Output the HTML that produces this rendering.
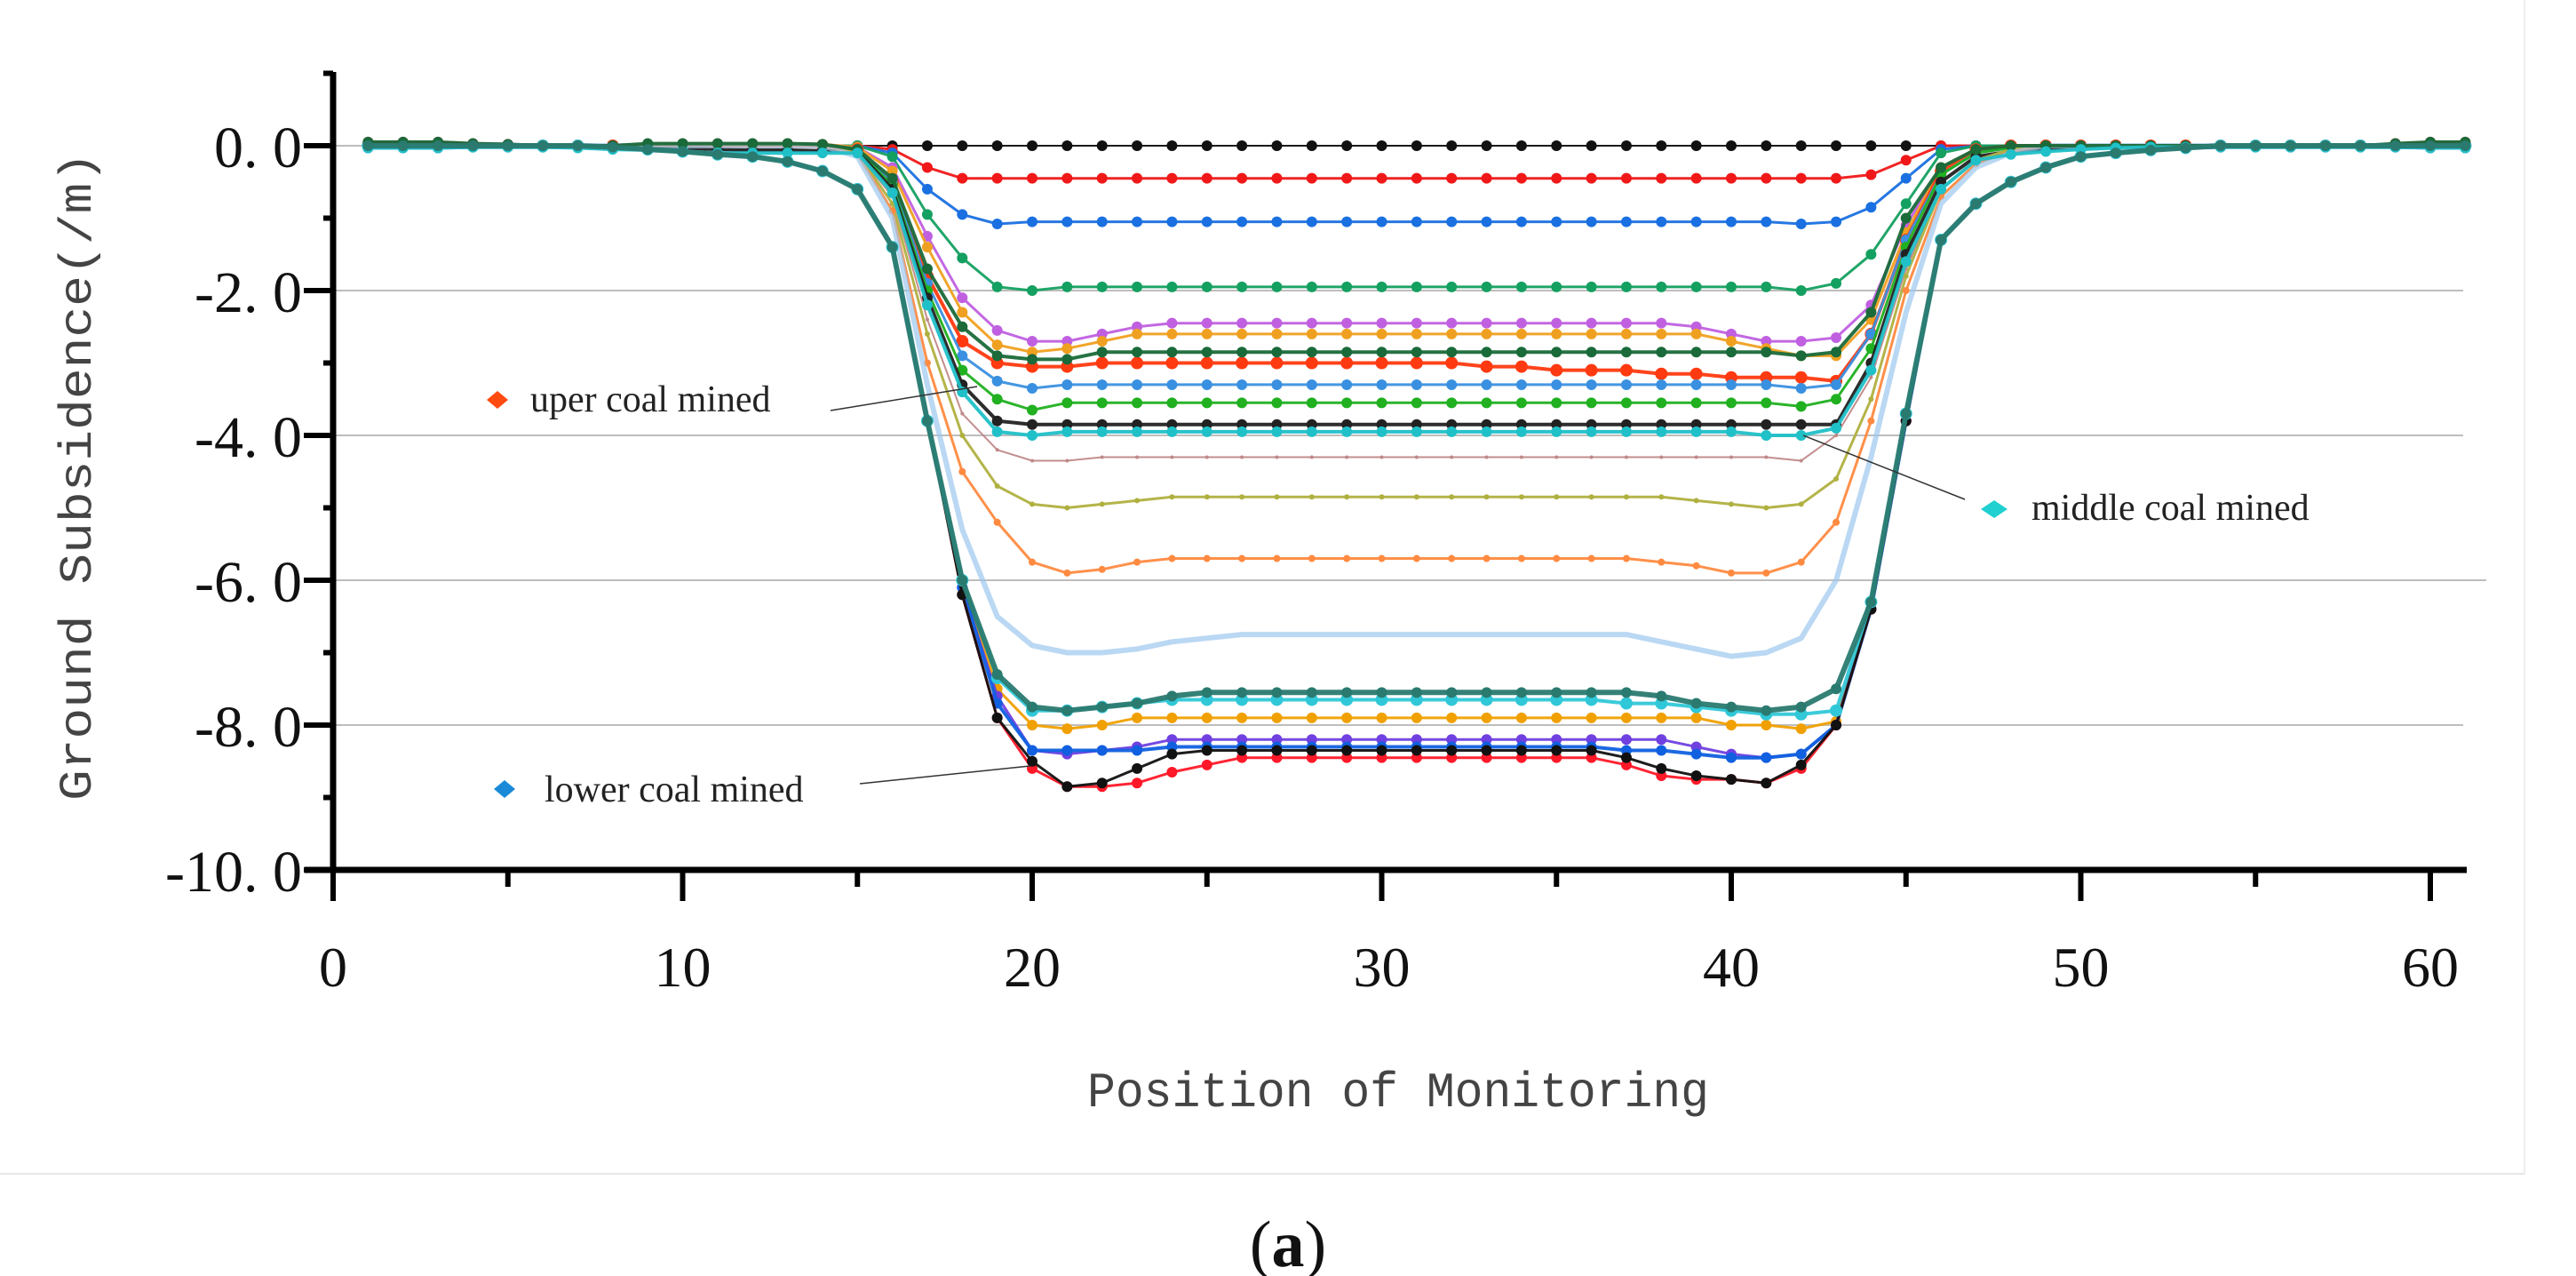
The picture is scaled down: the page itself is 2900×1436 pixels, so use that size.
<!DOCTYPE html>
<html><head><meta charset="utf-8">
<style>
html,body{margin:0;padding:0;background:#fff;}
svg{display:block;}
</style></head>
<body>
<svg id="chart" width="2900" height="1436" viewBox="0 0 2900 1436" xmlns="http://www.w3.org/2000/svg">
<rect width="2900" height="1436" fill="#fff"/>
<line x1="0" y1="1321" x2="2842" y2="1321" stroke="#e6e6e6" stroke-width="2"/>
<line x1="2842" y1="0" x2="2842" y2="1321" stroke="#eeeeee" stroke-width="2"/>
<g id="grid"></g>
<g id="series"></g>
<g id="axes"></g>
<text x="0" y="0" transform="translate(102,536) rotate(-90)" text-anchor="middle" font-family="Liberation Mono, monospace" font-size="52" fill="#444" textLength="730" lengthAdjust="spacingAndGlyphs">Ground Subsidence(/m)</text>
<text x="1574" y="1245" text-anchor="middle" font-family="Liberation Mono, monospace" font-size="56" fill="#444" textLength="700" lengthAdjust="spacingAndGlyphs">Position of Monitoring</text>
<g>
<path d="M548,450 L560,440 L572,450 L560,460 Z" fill="#ff4a10"/>
<text x="597" y="463" font-family="Liberation Serif, serif" font-size="42" fill="#222">uper coal mined</text>
<line x1="935" y1="462" x2="1100" y2="435" stroke="#333" stroke-width="1.5"/>
</g>
<g>
<path d="M556,888 L568,878 L580,888 L568,898 Z" fill="#1a8ad8"/>
<text x="613" y="902" font-family="Liberation Serif, serif" font-size="42" fill="#222">lower coal mined</text>
<line x1="968" y1="882" x2="1160" y2="862" stroke="#333" stroke-width="1.5"/>
</g>
<g>
<path d="M2230,573 L2245,563 L2260,573 L2245,583 Z" fill="#20d0d0"/>
<text x="2287" y="585" font-family="Liberation Serif, serif" font-size="42" fill="#222">middle coal mined</text>
<line x1="2212" y1="562" x2="2030" y2="490" stroke="#333" stroke-width="1.5"/>
</g>
<text x="1450" y="1425" text-anchor="middle" font-family="Liberation Serif, serif" font-size="74" fill="#111">(<tspan font-weight="bold">a</tspan>)</text>
</svg>
<script>
const positions = [1,2,3,4,5,6,7,8,9,10,11,12,13,14,15,16,17,18,19,20,21,22,23,24,25,26,27,28,29,30,31,32,33,34,35,36,37,38,39,40,41,42,43,44,45,46,47,48,49,50,51,52,53,54,55,56,57,58,59,60,61];
const yTicks = [0,-2,-4,-6,-8,-10];
const yTickLabels = ["0. 0","-2. 0","-4. 0","-6. 0","-8. 0","-10. 0"];
const xTicks = [0,10,20,30,40,50,60];
const xTickLabels = ["0","10","20","30","40","50","60"];
const seriesNames = ["s00","s01","s02","s03","s04","s05","s06","s07","s08","s09","s10","s11","s12","s13","s14","s15","s16","s17","s18","s19","s20","s21","s22"];

const s00 = [0,0,0,0,0,0,0,0,0,0,0,0,0,0, 0,0,0,0,0, 0,0,0, 0,0,0,0,0,0,0,0,0,0,0,0,0,0,0,0,0, 0,0,0, 0,0,0,0,0, 0,0,0,0,0,0,0,0,0,0,0,0,0,0];
const s01 = [0,0,0,0,0,0,0,0,0,0,0,0,0,0, 0,-0.05,-0.3,-0.45,-0.45, -0.45,-0.45,-0.45, -0.45,-0.45,-0.45,-0.45,-0.45,-0.45,-0.45,-0.45,-0.45,-0.45,-0.45,-0.45,-0.45,-0.45,-0.45,-0.45,-0.45, -0.45,-0.45,-0.45, -0.45,-0.4,-0.2,0,0, 0,0,0,0,0,0,0,0,0,0,0,0,0,0];
const s02 = [0,0,0,0,0,0,0,0,0,0,0,0,0,0, 0,-0.1,-0.6,-0.95,-1.08, -1.05,-1.05,-1.05, -1.05,-1.05,-1.05,-1.05,-1.05,-1.05,-1.05,-1.05,-1.05,-1.05,-1.05,-1.05,-1.05,-1.05,-1.05,-1.05,-1.05, -1.05,-1.05,-1.08, -1.05,-0.85,-0.45,-0.05,0, 0,0,0,0,0,0,0,0,0,0,0,0,0,0];
const s03 = [0,0,0,0,0,0,0,0,0,0,0,0,0,0, 0,-0.15,-0.95,-1.55,-1.95, -2.0,-1.95,-1.95, -1.95,-1.95,-1.95,-1.95,-1.95,-1.95,-1.95,-1.95,-1.95,-1.95,-1.95,-1.95,-1.95,-1.95,-1.95,-1.95,-1.95, -1.95,-1.95,-2.0, -1.9,-1.5,-0.8,-0.1,0, 0,0,0,0,0,0,0,0,0,0,0,0,0,0];
const s04 = [0,0,0,0,0,0,0,0,0.02,0.03,0.03,0.03,0.03,0.02, -0.02,-0.3,-1.25,-2.1,-2.55, -2.7,-2.7,-2.6, -2.5,-2.45,-2.45,-2.45,-2.45,-2.45,-2.45,-2.45,-2.45,-2.45,-2.45,-2.45,-2.45,-2.45,-2.45,-2.45,-2.5, -2.6,-2.7,-2.7, -2.65,-2.2,-1.1,-0.3,-0.05, 0,0,0,0,0,0,0,0,0,0,0,0,0,0];
const s05 = [0,0,0,0,0,0,0,0,0.02,0.03,0.03,0.03,0.03,0.02, -0.02,-0.35,-1.4,-2.3,-2.75, -2.85,-2.8,-2.7, -2.6,-2.6,-2.6,-2.6,-2.6,-2.6,-2.6,-2.6,-2.6,-2.6,-2.6,-2.6,-2.6,-2.6,-2.6,-2.6,-2.6, -2.7,-2.8,-2.9, -2.9,-2.4,-1.2,-0.3,-0.05, -0.02,0,0,0,0,0,0,0,0,0,0,0,0,0];
const s06 = [0.05,0.05,0.05,0.03,0.02,0,0,0,0.03,0.03,0.03,0.03,0.03,0.02, -0.05,-0.45,-1.7,-2.5,-2.9, -2.95,-2.95,-2.85, -2.85,-2.85,-2.85,-2.85,-2.85,-2.85,-2.85,-2.85,-2.85,-2.85,-2.85,-2.85,-2.85,-2.85,-2.85,-2.85,-2.85, -2.85,-2.85,-2.9, -2.85,-2.3,-1.0,-0.3,-0.05, 0,0,0,0,0,0,0,0,0,0,0,0.03,0.05,0.05];
const s07 = [0,0,0,0,0,0,0,0,0,0,0,0,0,0, -0.05,-0.5,-1.8,-2.7,-3.0, -3.05,-3.05,-3.0, -3.0,-3.0,-3.0,-3.0,-3.0,-3.0,-3.0,-3.0,-3.0,-3.0,-3.05,-3.05,-3.1,-3.1,-3.1,-3.15,-3.15, -3.2,-3.2,-3.2, -3.25,-2.6,-1.3,-0.35,-0.05, 0,0,0,0,0,0,0,0,0,0,0,0,0,0];
const s08 = [0,0,0,0,0,0,0,0,0,0,0,0,0,0, -0.05,-0.5,-1.9,-2.9,-3.25, -3.35,-3.3,-3.3, -3.3,-3.3,-3.3,-3.3,-3.3,-3.3,-3.3,-3.3,-3.3,-3.3,-3.3,-3.3,-3.3,-3.3,-3.3,-3.3,-3.3, -3.3,-3.3,-3.35, -3.3,-2.6,-1.3,-0.4,-0.1, -0.03,0,0,0,0,0,0,0,0,0,0,0,0,0];
const s09 = [0,0,0,0,0,0,0,0,0,0,0,0,0,0, -0.06,-0.55,-2.0,-3.1,-3.5, -3.65,-3.55,-3.55, -3.55,-3.55,-3.55,-3.55,-3.55,-3.55,-3.55,-3.55,-3.55,-3.55,-3.55,-3.55,-3.55,-3.55,-3.55,-3.55,-3.55, -3.55,-3.55,-3.6, -3.5,-2.8,-1.4,-0.4,-0.1, -0.03,0,0,0,0,0,0,0,0,0,0,0,0,0];
const s10 = [0,0,0,0,0,0,0,0,-0.02,-0.03,-0.05,-0.06,-0.06,-0.07, -0.08,-0.6,-2.1,-3.3,-3.8, -3.85,-3.85,-3.85, -3.85,-3.85,-3.85,-3.85,-3.85,-3.85,-3.85,-3.85,-3.85,-3.85,-3.85,-3.85,-3.85,-3.85,-3.85,-3.85,-3.85, -3.85,-3.85,-3.85, -3.85,-3.0,-1.5,-0.5,-0.15, -0.08,-0.05,-0.03,0,0,0,0,0,0,0,0,0,0,0];
const s11 = [-0.03,-0.03,-0.03,-0.02,-0.02,-0.02,-0.03,-0.05,-0.06,-0.08,-0.1,-0.1,-0.1,-0.1, -0.1,-0.65,-2.2,-3.4,-3.95, -4.0,-3.95,-3.95, -3.95,-3.95,-3.95,-3.95,-3.95,-3.95,-3.95,-3.95,-3.95,-3.95,-3.95,-3.95,-3.95,-3.95,-3.95,-3.95,-3.95, -3.95,-4.0,-4.0, -3.9,-3.1,-1.6,-0.6,-0.2, -0.12,-0.08,-0.05,-0.03,-0.02,-0.02,-0.02,-0.02,-0.02,-0.02,-0.02,-0.02,-0.03,-0.03];
const s12 = [0,0,0,0,0,0,0,0,0,0,0,0,0,0, -0.1,-0.7,-2.4,-3.7,-4.2, -4.35,-4.35,-4.3, -4.3,-4.3,-4.3,-4.3,-4.3,-4.3,-4.3,-4.3,-4.3,-4.3,-4.3,-4.3,-4.3,-4.3,-4.3,-4.3,-4.3, -4.3,-4.3,-4.35, -4.0,-3.2,-1.7,-0.6,-0.2, -0.05,0,0,0,0,0,0,0,0,0,0,0,0,0];
const s13 = [0,0,0,0,0,0,0,0,0,0,0,0,0,0, -0.1,-0.8,-2.6,-4.0,-4.7, -4.95,-5.0,-4.95, -4.9,-4.85,-4.85,-4.85,-4.85,-4.85,-4.85,-4.85,-4.85,-4.85,-4.85,-4.85,-4.85,-4.85,-4.85,-4.85,-4.9, -4.95,-5.0,-4.95, -4.6,-3.5,-1.8,-0.6,-0.2, -0.05,0,0,0,0,0,0,0,0,0,0,0,0,0];
const s14 = [0,0,0,0,0,0,0,0,0,0,0,0,0,0, -0.12,-0.9,-3.0,-4.5,-5.2, -5.75,-5.9,-5.85, -5.75,-5.7,-5.7,-5.7,-5.7,-5.7,-5.7,-5.7,-5.7,-5.7,-5.7,-5.7,-5.7,-5.7,-5.7,-5.75,-5.8, -5.9,-5.9,-5.75, -5.2,-3.8,-2.0,-0.7,-0.25, -0.08,0,0,0,0,0,0,0,0,0,0,0,0,0];
const s15 = [0,0,0,0,0,0,0,0,0,0,0,0,0,0, -0.15,-1.0,-3.3,-5.3,-6.5, -6.9,-7.0,-7.0, -6.95,-6.85,-6.8,-6.75,-6.75,-6.75,-6.75,-6.75,-6.75,-6.75,-6.75,-6.75,-6.75,-6.75,-6.75,-6.85,-6.95, -7.05,-7.0,-6.8, -6.0,-4.3,-2.3,-0.8,-0.3, -0.1,0,0,0,0,0,0,0,0,0,0,0,0,0];
const s16 = [0,0,0,0,0,0,0,-0.02,-0.05,-0.08,-0.12,-0.15,-0.22,-0.35, -0.6,-1.4,-3.8,-6.0,-7.3, -7.75,-7.8,-7.75, -7.7,-7.6,-7.55,-7.55,-7.55,-7.55,-7.55,-7.55,-7.55,-7.55,-7.55,-7.55,-7.55,-7.55,-7.55,-7.6,-7.7, -7.75,-7.8,-7.75, -7.5,-6.3,-3.7,-1.3,-0.8, -0.5,-0.3,-0.15,-0.1,-0.06,-0.03,0,0,0,0,0,0,0,0];
const s17 = [0,0,0,0,0,0,0,-0.02,-0.05,-0.08,-0.12,-0.15,-0.22,-0.35, -0.6,-1.4,-3.8,-6.0,-7.35, -7.8,-7.8,-7.75, -7.7,-7.65,-7.65,-7.65,-7.65,-7.65,-7.65,-7.65,-7.65,-7.65,-7.65,-7.65,-7.65,-7.65,-7.7,-7.7,-7.75, -7.8,-7.85,-7.85, -7.8,-6.3,-3.7,-1.3,-0.8, -0.5,-0.3,-0.15,-0.1,-0.06,-0.03,0,0,0,0,0,0,0,0];
const s18 = [0,0,0,0,0,0,0,-0.02,-0.05,-0.08,-0.12,-0.15,-0.22,-0.35, -0.6,-1.4,-3.8,-6.0,-7.5, -8.0,-8.05,-8.0, -7.9,-7.9,-7.9,-7.9,-7.9,-7.9,-7.9,-7.9,-7.9,-7.9,-7.9,-7.9,-7.9,-7.9,-7.9,-7.9,-7.9, -8.0,-8.0,-8.05, -7.95,-6.3,-3.7,-1.3,-0.8, -0.5,-0.3,-0.15,-0.1,-0.06,-0.03,0,0,0,0,0,0,0,0];
const s19 = [0,0,0,0,0,0,0,-0.02,-0.05,-0.08,-0.12,-0.15,-0.22,-0.35, -0.6,-1.4,-3.8,-6.1,-7.6, -8.35,-8.4,-8.35, -8.3,-8.2,-8.2,-8.2,-8.2,-8.2,-8.2,-8.2,-8.2,-8.2,-8.2,-8.2,-8.2,-8.2,-8.2,-8.2,-8.3, -8.4,-8.45,-8.4, -8.0,-6.4,-3.8,-1.3,-0.8, -0.5,-0.3,-0.15,-0.1,-0.06,-0.03,0,0,0,0,0,0,0,0];
const s20 = [-0.03,-0.03,-0.03,-0.02,-0.02,-0.02,-0.02,-0.03,-0.05,-0.08,-0.12,-0.15,-0.22,-0.35, -0.6,-1.4,-3.8,-6.1,-7.7, -8.35,-8.35,-8.35, -8.35,-8.3,-8.3,-8.3,-8.3,-8.3,-8.3,-8.3,-8.3,-8.3,-8.3,-8.3,-8.3,-8.3,-8.35,-8.35,-8.4, -8.45,-8.45,-8.4, -8.0,-6.4,-3.8,-1.3,-0.8, -0.5,-0.3,-0.15,-0.1,-0.06,-0.03,-0.02,-0.02,-0.02,-0.02,-0.02,-0.02,-0.03,-0.03];
const s21 = [0.05,0.05,0.05,0.03,0.02,0,0,-0.02,-0.05,-0.08,-0.12,-0.15,-0.22,-0.35, -0.6,-1.4,-3.8,-6.2,-7.9, -8.6,-8.85,-8.85, -8.8,-8.65,-8.55,-8.45,-8.45,-8.45,-8.45,-8.45,-8.45,-8.45,-8.45,-8.45,-8.45,-8.45,-8.55,-8.7,-8.75, -8.75,-8.8,-8.6, -8.0,-6.4,-3.8,-1.3,-0.8, -0.5,-0.3,-0.15,-0.1,-0.06,-0.03,0,0,0,0,0,0.03,0.05,0.05];
const s22 = [0,0,0,0,0,0,0,-0.02,-0.05,-0.08,-0.12,-0.15,-0.22,-0.35, -0.6,-1.4,-3.8,-6.2,-7.9, -8.5,-8.85,-8.8, -8.6,-8.4,-8.35,-8.35,-8.35,-8.35,-8.35,-8.35,-8.35,-8.35,-8.35,-8.35,-8.35,-8.35,-8.45,-8.6,-8.7, -8.75,-8.8,-8.55, -8.0,-6.4,-3.8,-1.3,-0.8, -0.5,-0.3,-0.15,-0.1,-0.06,-0.03,0,0,0,0,0,0,0,0];

const allSeries = [s00,s01,s02,s03,s04,s05,s06,s07,s08,s09,s10,s11,s12,s13,s14,s15,s16,s17,s18,s19,s20,s21,s22];
const colors = ["#111","#f01818","#1a70e0","#14a060","#c060e0","#f0a020","#1a6a3a","#ff3a10","#3a90e0","#20b020","#222","#20c0c8","#c08888","#b0b040","#ff8a40","#9cc8ee","#2a7a70","#30c8d8","#f0a000","#7040e0","#1060e0","#ff1828","#111"];
const widths = [2,3,3,3,3,3,4,4,3,3,4,4,2,3,3,6,6,4,3,3,4,3,3];
const markerR = [6,6,6,6,6,6,6,7,6,6,6,6,2,3,4,0,6,7,6,6,6,6,6];
const drawOrder = [0,1,2,3,4,5,7,8,9,10,12,13,14,15,18,19,20,21,22,17,6,11,16];

const NS = "http://www.w3.org/2000/svg";
function X(v){ return 375 + v*39.35; }
function Y(v){ return 164 - v*81.5; }
function mk(tag, attrs, parent){ const e=document.createElementNS(NS,tag); for(const k in attrs) e.setAttribute(k,attrs[k]); parent.appendChild(e); return e; }

const grid = document.getElementById('grid');
yTicks.forEach((t,i)=>{
  if(t===-10) return;
  const l = mk('line',{x1:375,y1:Y(t),x2:(t===-6?2799:2773),y2:Y(t),stroke:'#bdbdbd','stroke-width':2},grid);
  
  
});

const sg = document.getElementById('series');
drawOrder.forEach((si)=>{
  const arr = allSeries[si];
  const g = mk('g',{},sg);
  
  
  let d='';
  arr.forEach((v,i)=>{ d += (i?'L':'M') + X(positions[i]).toFixed(1) + ',' + Y(v).toFixed(1); });
  const p = mk('path',{d:d,fill:'none',stroke:colors[si],'stroke-width':widths[si],'stroke-linejoin':'round',opacity:si===15?0.7:0.95},g);
  
  
  if(markerR[si]>0){
    arr.forEach((v,i)=>{
      const c = mk('circle',{cx:X(positions[i]),cy:Y(v),r:markerR[si],fill:colors[si]},g);
      
      
    });
  }
});

const ax = document.getElementById('axes');
const yl = mk('line',{x1:375,y1:81,x2:375,y2:982,stroke:'#000','stroke-width':7},ax);


const xl = mk('line',{x1:343,y1:979,x2:2777,y2:979,stroke:'#000','stroke-width':7},ax);


yTicks.forEach((t,i)=>{
  const tk = mk('line',{x1:342,y1:Y(t),x2:375,y2:Y(t),stroke:'#000','stroke-width':6},ax);
  
  
  const tx = mk('text',{x:340,y:Y(t)+24,'text-anchor':'end','font-family':'Liberation Serif, serif','font-size':66,fill:'#111'},ax);
  tx.textContent = yTickLabels[i];
  
  
  if(t>-10){
    const mt = mk('line',{x1:364,y1:Y(t-1),x2:375,y2:Y(t-1),stroke:'#000','stroke-width':6},ax);
    
    
  }
});
const yTop = mk('line',{x1:364,y1:Y(1),x2:375,y2:Y(1),stroke:'#000','stroke-width':6},ax);


xTicks.forEach((t,i)=>{
  const tk = mk('line',{x1:X(t),y1:979,x2:X(t),y2:1014,stroke:'#000','stroke-width':6},ax);
  
  
  const tx = mk('text',{x:X(t),y:1110,'text-anchor':'middle','font-family':'Liberation Serif, serif','font-size':64,fill:'#111'},ax);
  tx.textContent = xTickLabels[i];
  
  
  if(t<60){
    const mt = mk('line',{x1:X(t+5),y1:979,x2:X(t+5),y2:998,stroke:'#000','stroke-width':6},ax);
    
    
  }
});
</script>
</body></html>
